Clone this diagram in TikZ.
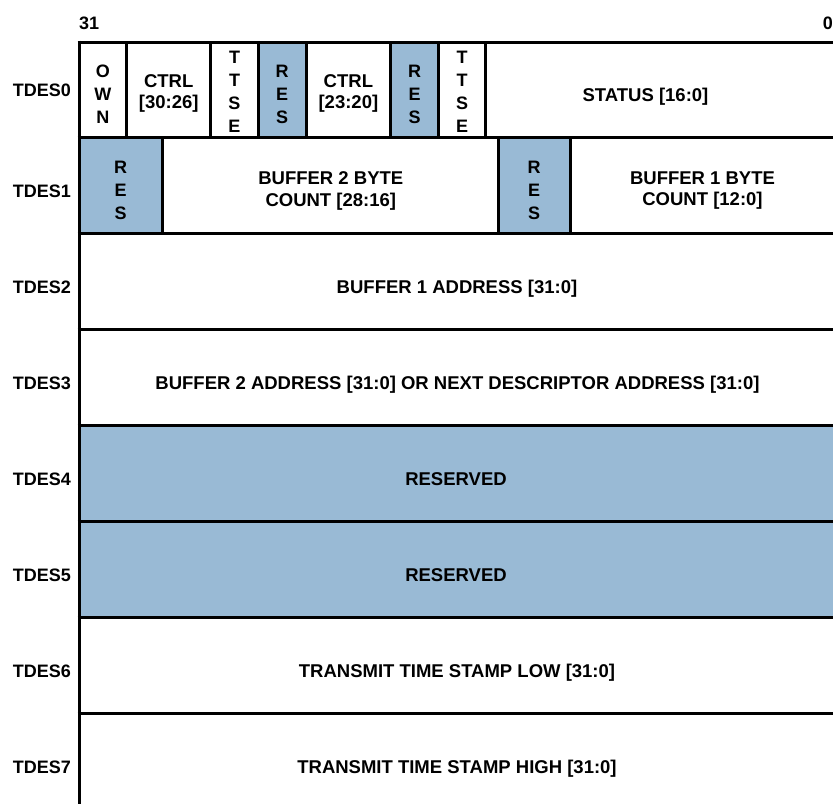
\documentclass[tikz,border=0pt]{standalone}
\usepackage{fontspec}
\setmainfont{Liberation Sans}
\definecolor{resblue}{RGB}{153,186,213}
\tikzset{
  gridline/.style={line width=3pt, draw=black},
  resfill/.style={fill=resblue},
  lbl/.style={font=\fontsize{18}{21.6}\selectfont\bfseries, inner sep=0pt, align=center, text=black},
  clbl/.style={font=\fontsize{18.5}{21.6}\selectfont\bfseries, inner sep=0pt, align=center, text=black},
  vlbl/.style={font=\fontsize{18}{23}\selectfont\bfseries, inner sep=0pt, align=center, text=black}
}
\begin{document}
\begin{tikzpicture}[x=1pt,y=-1pt]
\useasboundingbox (0,0) rectangle (833,804);
% reserved fills
\fill[resfill] (258.3,42) rectangle (306,137);
\fill[resfill] (390.7,42) rectangle (438.3,137);
\fill[resfill] (79,137) rectangle (162.3,233);
\fill[resfill] (498.3,137) rectangle (570,233);
\fill[resfill] (79,425) rectangle (833,617);
% grid
\draw[gridline] (79,40.5) -- (79,804);
\foreach \yy in {42,137,233,329,425,521,617,713}
  \draw[gridline] (77.5,\yy) -- (833,\yy);
\foreach \xx in {126.7,210.7,258.3,306,390.7,438.3,485.7}
  \draw[gridline] (\xx,42) -- (\xx,137);
\foreach \xx in {162.3,498.3,570}
  \draw[gridline] (\xx,137) -- (\xx,233);
% bit numbers
\node[lbl, anchor=base west] (b31) at (79,29) {31};
\node[lbl, anchor=base east] (b0) at (833,29) {0};
% row labels
\node[lbl, anchor=base east] (t0) at (71,96.7) {TDES0};
\node[lbl, anchor=base east] (t1) at (71,197) {TDES1};
\node[lbl, anchor=base east] (t2) at (71,293) {TDES2};
\node[lbl, anchor=base east] (t3) at (71,389) {TDES3};
\node[lbl, anchor=base east] (t4) at (71,485.5) {TDES4};
\node[lbl, anchor=base east] (t5) at (71,581.5) {TDES5};
\node[lbl, anchor=base east] (t6) at (71,677.5) {TDES6};
\node[lbl, anchor=base east] (t7) at (71,773.5) {TDES7};
% TDES0 fields
\node[vlbl] (own) at (102.8,94) {O\\W\\N};
\node[clbl] (ctrlA) at (168.7,93.5) {CTRL\\{[30:26]}};
\node[vlbl] (ttseA) at (234.5,91.7) {T\\T\\S\\E};
\node[vlbl] (resA) at (282.2,94.2) {R\\E\\S};
\node[clbl] (ctrlB) at (348.4,93.5) {CTRL\\{[23:20]}};
\node[vlbl] (resB) at (414.5,94.2) {R\\E\\S};
\node[vlbl] (ttseB) at (462,91.7) {T\\T\\S\\E};
\node[clbl, anchor=base] (status) at (645.5,101.7) {STATUS [16:0]};
% TDES1 fields
\node[vlbl] (resC) at (120.7,190.8) {R\\E\\S};
\node[clbl] (buf2cnt) at (330.8,190.7) {BUFFER 2 BYTE\\COUNT [28:16]};
\node[vlbl] (resD) at (534.2,190.8) {R\\E\\S};
\node[clbl] (buf1cnt) at (702.5,190.7) {BUFFER 1 BYTE\\COUNT [12:0]};
% full-width rows
\node[clbl, anchor=base] (buf1addr) at (457,293) {BUFFER 1 ADDRESS [31:0]};
\node[clbl, anchor=base] (buf2addr) at (457.5,389) {BUFFER 2 ADDRESS [31:0] OR NEXT DESCRIPTOR ADDRESS [31:0]};
\node[clbl, anchor=base] (res4) at (456,485) {RESERVED};
\node[clbl, anchor=base] (res5) at (456,581) {RESERVED};
\node[clbl, anchor=base] (tslow) at (457,677.5) {TRANSMIT TIME STAMP LOW [31:0]};
\node[clbl, anchor=base] (tshigh) at (457,773.5) {TRANSMIT TIME STAMP HIGH [31:0]};
\end{tikzpicture}
\end{document}
